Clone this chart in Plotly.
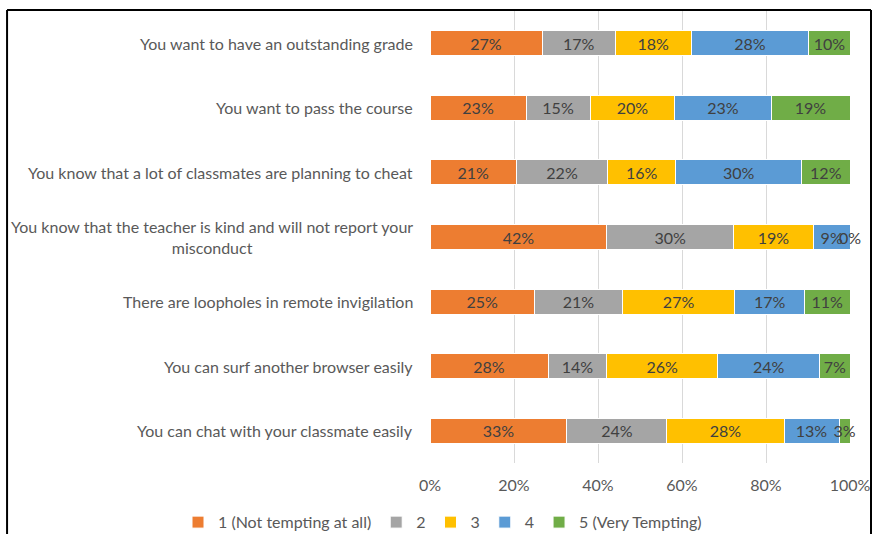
import plotly.graph_objects as go

# Survey statements (top to bottom)
statements = [
    "You want to have an outstanding grade",
    "You want to pass the course",
    "You know that a lot of classmates are planning to cheat",
    "You know that the teacher is kind and will not report your<br>misconduct",
    "There are loopholes in remote invigilation",
    "You can surf another browser easily",
    "You can chat with your classmate easily",
]

# Share of responses (%) for each rating level, one list per level
level_1 = [26.7, 22.9, 20.6, 42.1, 24.9, 28.1, 32.6]
level_2 = [17.4, 15.2, 21.7, 30.2, 20.9, 14.0, 23.8]
level_3 = [18.1, 20.2, 16.2, 19.0, 26.8, 26.4, 27.9]
level_4 = [28.0, 22.9, 30.0, 8.7, 16.6, 24.3, 13.1]
level_5 = [9.8, 18.8, 11.5, 0.0, 10.8, 7.2, 2.6]

series_names = ["1 (Not tempting at all)", "2", "3", "4", "5 (Very Tempting)"]
series_values = [level_1, level_2, level_3, level_4, level_5]
series_colors = ["#ED7D31", "#A5A5A5", "#FFC000", "#5B9BD5", "#70AD47"]

x_ticks = [0, 20, 40, 60, 80, 100]

FONT = "Lato"
SIZE = 16
VALUE_COLOR = "#404040"
LABEL_COLOR = "#595959"

fig = go.Figure()
annotations = []
running = [0.0] * len(statements)
for name, vals, color in zip(series_names, series_values, series_colors):
    # zero-width segments get their label from an annotation at the segment position
    positions = ["none" if v == 0 else "inside" for v in vals]
    fig.add_trace(go.Bar(
        y=statements,
        x=vals,
        name=name,
        orientation="h",
        marker=dict(color=color, line=dict(color="white", width=1)),
        texttemplate="%{x:.0f}%",
        textposition=positions,
        textangle=0,
        insidetextanchor="middle",
        constraintext="none",
        cliponaxis=False,
        textfont=dict(family=FONT, size=SIZE, color=VALUE_COLOR),
        hoverinfo="skip",
    ))
    for i, (s, v) in enumerate(zip(statements, vals)):
        if v == 0:
            annotations.append(dict(
                x=running[i] + v / 2, xref="x", y=s, yref="y",
                xanchor="center", yanchor="middle",
                text=f"{v:.0f}%", showarrow=False,
                font=dict(family=FONT, size=SIZE, color=VALUE_COLOR),
            ))
        running[i] += v

# Category labels beside the axis, each line centred
for s in statements:
    annotations.append(dict(
        x=0, xref="paper", y=s, yref="y",
        xanchor="right", yanchor="middle", xshift=-15,
        text=s, showarrow=False, align="center",
        font=dict(family=FONT, size=SIZE, color=LABEL_COLOR),
    ))

# Chart frame (left, top, right edges)
frame = [
    dict(type="line", xref="paper", yref="paper", x0=-1.007, x1=-1.007, y0=-0.2, y1=1.002,
         line=dict(color="black", width=2)),
    dict(type="line", xref="paper", yref="paper", x0=-1.007, x1=1.05, y0=1.002, y1=1.002,
         line=dict(color="black", width=2)),
    dict(type="line", xref="paper", yref="paper", x0=1.05, x1=1.05, y0=-0.2, y1=1.002,
         line=dict(color="black", width=2)),
]

fig.update_layout(
    template="none",
    barmode="stack",
    bargap=0.613,
    width=873, height=534,
    margin=dict(l=430, r=23, t=11, b=71, autoexpand=False),
    paper_bgcolor="white",
    plot_bgcolor="white",
    font=dict(family=FONT, size=SIZE, color=LABEL_COLOR),
    xaxis=dict(
        range=[0, 100],
        tickvals=x_ticks,
        ticktext=[f"{t}%" for t in x_ticks],
        showgrid=True, gridcolor="#D9D9D9", gridwidth=1,
        zeroline=False, showline=False, ticks="",
        ticklabelstandoff=11,
        automargin=False,
        tickfont=dict(family=FONT, size=SIZE, color=LABEL_COLOR),
        fixedrange=True,
    ),
    yaxis=dict(
        autorange="reversed",
        showticklabels=False,
        showgrid=False, zeroline=False, showline=False, ticks="",
        automargin=False,
        fixedrange=True,
    ),
    legend=dict(
        orientation="h",
        x=-0.600, xanchor="left",
        y=-0.131, yanchor="middle",
        font=dict(family=FONT, size=SIZE, color=LABEL_COLOR),
        traceorder="normal",
        bgcolor="rgba(0,0,0,0)",
    ),
    annotations=annotations,
    shapes=frame,
    showlegend=True,
)

fig.write_html("out.html")
